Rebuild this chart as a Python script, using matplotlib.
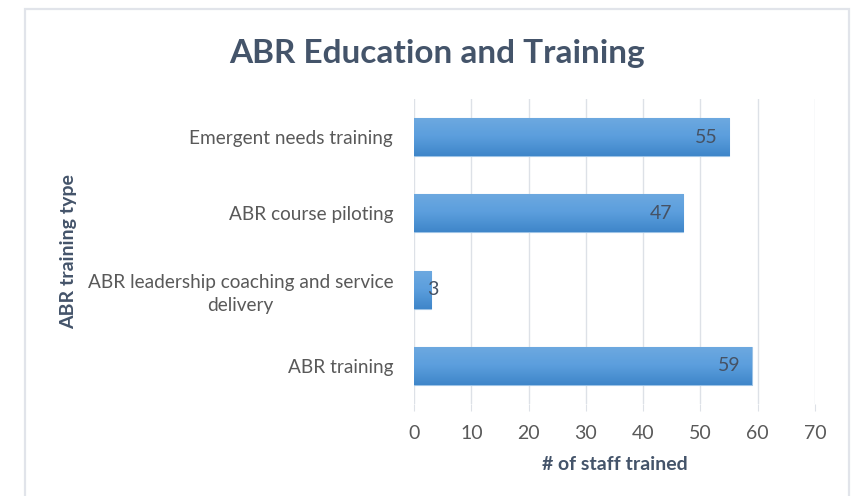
import numpy as np
import matplotlib.pyplot as plt
from matplotlib.patches import Rectangle
from matplotlib.colors import LinearSegmentedColormap

# chart data (bottom to top, as drawn)
categories = ["ABR training",
              "ABR leadership coaching and service\ndelivery",
              "ABR course piloting",
              "Emergent needs training"]
staff_trained = [59, 3, 47, 55]
x_ticks = [0, 10, 20, 30, 40, 50, 60, 70]

title = "ABR Education and Training"
x_title = "# of staff trained"
y_title = "ABR training type"

plt.rcParams['font.family'] = ['Lato', 'DejaVu Sans']
text_col = "#595959"
title_col = "#44546A"
grid_col = "#DDE1E7"

fig = plt.figure(figsize=(8.54, 4.96), dpi=100)
ax = fig.add_axes([414 / 854, 1 - 404 / 496, 401 / 854, 305 / 496])

# outer chart frame
fig.patches.append(Rectangle((25 / 854, -0.05), 824 / 854, 1.05 - 9 / 496,
                             transform=fig.transFigure, fill=False,
                             edgecolor="#E1E4EA", linewidth=1.6))

y = np.arange(len(categories))
bars = ax.barh(y, staff_trained, height=0.5, color="#5B9BD5",
               edgecolor="#9DC3E6", linewidth=0.8, zorder=2)

# vertical gradient on each bar
grad = np.linspace(0, 1, 64).reshape(-1, 1)
cmap = LinearSegmentedColormap.from_list("bar", ["#3F86C9", "#5B9EDD", "#6EA9E0"])
for b in bars:
    x0, y0, w, h = b.get_x(), b.get_y(), b.get_width(), b.get_height()
    im = ax.imshow(grad, cmap=cmap, aspect="auto", origin="lower",
                   extent=[x0, x0 + w, y0, y0 + h], zorder=2.5)
    im.set_clip_path(b)

for b, v in zip(bars, staff_trained):
    yc = b.get_y() + b.get_height() / 2
    if v < 8:
        ax.annotate(str(v), (v, yc), xytext=(1, 0), textcoords="offset points",
                    ha="center", va="center", fontsize=14, color="#465264", zorder=4)
    else:
        ax.annotate(str(v), (v, yc), xytext=(-8, 0), textcoords="offset points",
                    ha="right", va="center", fontsize=14, color="#465264", zorder=4)

ax.set_xlim(0, 70)
ax.set_ylim(-0.5, len(categories) - 0.5)
ax.set_xticks(x_ticks)
ax.set_xticklabels([str(t) for t in x_ticks])
ax.set_yticks(y)
ax.set_yticklabels(categories, multialignment="center", linespacing=1.45)
ax.tick_params(axis="x", length=5, color=grid_col, labelcolor=text_col,
               labelsize=14, pad=10)
ax.tick_params(axis="y", length=0, labelcolor=text_col, labelsize=13.7, pad=15)
ax.grid(axis="x", color=grid_col, linewidth=1.0, zorder=0)
ax.set_axisbelow(True)
for s in ax.spines.values():
    s.set_visible(False)

ax.set_xlabel(x_title, fontsize=14, fontweight="bold", color=title_col, labelpad=10)
ax.set_ylabel(y_title, fontsize=14, fontweight="bold", color=title_col, labelpad=0)
ax.yaxis.set_label_coords(-(414 - 77) / 401, 0.5)
fig.text(0.512, 1 - 53 / 496, title, ha="center", va="center",
         fontsize=24, fontweight="bold", color=title_col)

fig.savefig("out.png", dpi=100)
